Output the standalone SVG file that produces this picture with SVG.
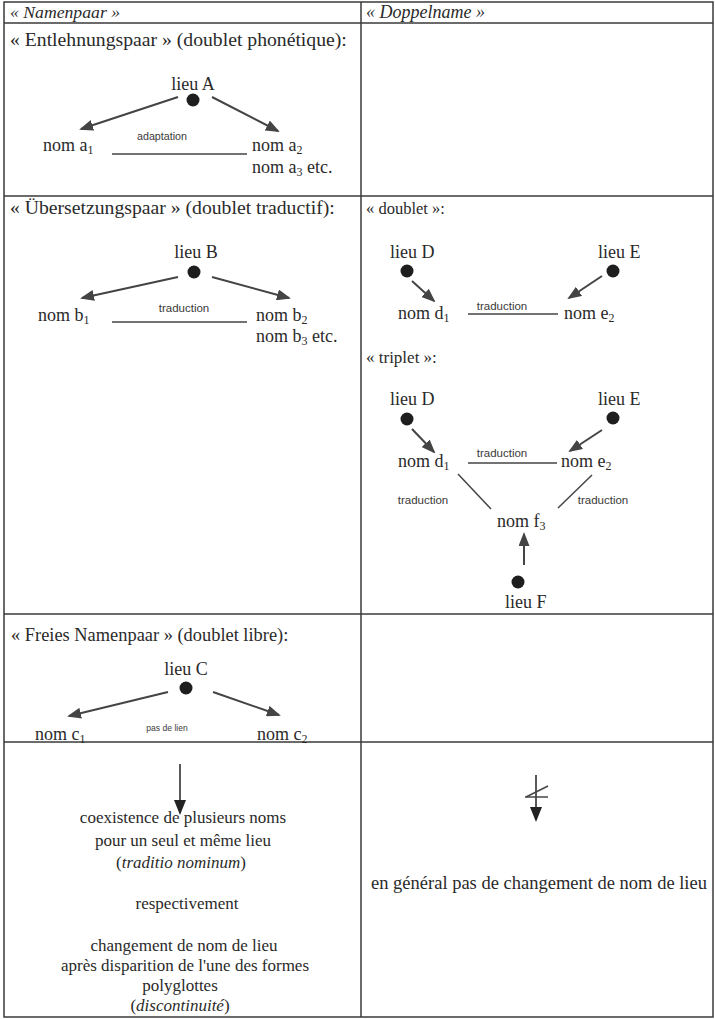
<svg xmlns="http://www.w3.org/2000/svg" width="715" height="1019" viewBox="0 0 715 1019">
<style>
.t{font-family:"Liberation Serif","Times New Roman",serif;font-size:18px;fill:#2a2a2a}
.h{font-family:"Liberation Serif","Times New Roman",serif;font-size:18px;font-style:italic;fill:#2a2a2a}
.s{font-family:"Liberation Sans",Arial,sans-serif;font-size:11.5px;fill:#3a3a3a}
.c{text-anchor:middle}
.sub{font-size:12px}
.ti{font-size:19.7px}
.bl{font-size:17px}
.grid{stroke:#3a3a3a;stroke-width:1.5;fill:none}
.ar{stroke:#444;stroke-width:2;fill:none;marker-end:url(#ah)}
.ln{stroke:#444;stroke-width:1.5;fill:none}
.dot{fill:#1e1e1e}
</style>
<defs>
<marker id="ah" viewBox="0 0 14 11" refX="12" refY="5.5" markerWidth="14" markerHeight="11" markerUnits="userSpaceOnUse" orient="auto"><path d="M0,0 L14,5.5 L0,11 z" fill="#444"/></marker>
<marker id="ahb" viewBox="0 0 15 12" refX="13" refY="6" markerWidth="15" markerHeight="12" markerUnits="userSpaceOnUse" orient="auto"><path d="M0,0 L15,6 L0,12 z" fill="#222"/></marker>
</defs>
<rect width="715" height="1019" fill="#fff"/>
<g id="table">
<rect class="grid" x="4" y="2" width="709" height="1015"/>
<line class="grid" x1="361" y1="2" x2="361" y2="1017"/>
<line class="grid" x1="4" y1="23" x2="713" y2="23"/>
<line class="grid" x1="4" y1="196" x2="713" y2="196"/>
<line class="grid" x1="4" y1="614" x2="713" y2="614"/>
<line class="grid" x1="4" y1="742" x2="713" y2="742"/>
</g>
<g id="headers">
<text class="h" x="10" y="18" style="font-size:17.7px">« Namenpaar »</text>
<text class="h" x="366" y="18">« Doppelname »</text>
</g>
<g id="titles">
<text class="t ti" x="10" y="46">« Entlehnungspaar » (doublet phonétique):</text>
<text class="t ti" x="10" y="214">« Übersetzungspaar » (doublet traductif):</text>
<text class="t" x="366" y="214" style="font-size:16.5px">« doublet »:</text>
<text class="t" x="366" y="363" style="font-size:17px">« triplet »:</text>
<text class="t" x="11" y="641" style="font-size:18.4px">« Freies Namenpaar » (doublet libre):</text>
</g>
<g id="nodeA">
<text class="t c" x="193" y="90">lieu A</text>
<circle class="dot" cx="193" cy="100" r="6.5"/>
<text class="t" x="43" y="151">nom a<tspan class="sub" dy="3">1</tspan></text>
<text class="t" x="252" y="151">nom a<tspan class="sub" dy="3">2</tspan></text>
<text class="t" x="252" y="173">nom a<tspan class="sub" dy="3">3</tspan><tspan dy="-3"> etc.</tspan></text>
<text class="s c" x="162" y="140" style="font-size:10.7px">adaptation</text>
</g>
<g id="nodeB">
<text class="t c" x="196" y="258">lieu B</text>
<circle class="dot" cx="194" cy="272" r="6.5"/>
<text class="t" x="38" y="321">nom b<tspan class="sub" dy="3">1</tspan></text>
<text class="t" x="256" y="321">nom b<tspan class="sub" dy="3">2</tspan></text>
<text class="t" x="256" y="342">nom b<tspan class="sub" dy="3">3</tspan><tspan dy="-3"> etc.</tspan></text>
<text class="s c" x="184" y="312">traduction</text>
</g>
<g id="nodeD1">
<text class="t" x="390" y="258">lieu D</text>
<circle class="dot" cx="407" cy="271" r="6.5"/>
<text class="t" x="398" y="319">nom d<tspan class="sub" dy="3">1</tspan></text>
</g>
<g id="nodeE1">
<text class="t" x="598" y="258">lieu E</text>
<circle class="dot" cx="613" cy="271" r="6.5"/>
<text class="t" x="564" y="319">nom e<tspan class="sub" dy="3">2</tspan></text>
<text class="s c" x="502" y="310">traduction</text>
</g>
<g id="nodeD2">
<text class="t" x="390" y="405">lieu D</text>
<circle class="dot" cx="407" cy="419" r="6.5"/>
<text class="t" x="398" y="467">nom d<tspan class="sub" dy="3">1</tspan></text>
</g>
<g id="nodeE2">
<text class="t" x="598" y="405">lieu E</text>
<circle class="dot" cx="613" cy="418" r="6.5"/>
<text class="t" x="561" y="467">nom e<tspan class="sub" dy="3">2</tspan></text>
<text class="s c" x="502" y="457">traduction</text>
</g>
<g id="nodeF">
<text class="t" x="497" y="527">nom f<tspan class="sub" dy="3">3</tspan></text>
<circle class="dot" cx="518" cy="582" r="6.5"/>
<text class="t" x="505" y="608">lieu F</text>
<text class="s c" x="423" y="504">traduction</text>
<text class="s c" x="603" y="504">traduction</text>
</g>
<g id="nodeC">
<text class="t c" x="186" y="675">lieu C</text>
<circle class="dot" cx="186" cy="688" r="6.5"/>
<text class="t" x="35" y="740">nom c<tspan class="sub" dy="3">1</tspan></text>
<text class="t" x="257" y="740">nom c<tspan class="sub" dy="3">2</tspan></text>
<text class="s c" x="167" y="731" style="font-size:8.6px">pas de lien</text>
</g>
<g id="conclusionLeft">
<text class="t c bl" x="183" y="823">coexistence de plusieurs noms</text>
<text class="t c bl" x="183" y="846">pour un seul et même lieu</text>
<text class="t c bl" x="181" y="868">(<tspan font-style="italic">traditio nominum</tspan>)</text>
<text class="t c bl" x="187" y="909">respectivement</text>
<text class="t c bl" x="184" y="951">changement de nom de lieu</text>
<text class="t c bl" x="185" y="971">après disparition de l'une des formes</text>
<text class="t c bl" x="180" y="991">polyglottes</text>
<text class="t c bl" x="180" y="1011">(<tspan font-style="italic">discontinuité</tspan>)</text>
</g>
<g id="conclusionRight">
<text class="t c" x="539" y="889" style="font-size:18.5px">en général pas de changement de nom de lieu</text>
</g>
<g id="connectors">
<line class="ar" x1="178" y1="97" x2="81" y2="129"/>
<line class="ar" x1="212" y1="97" x2="278" y2="131"/>
<line class="ln" x1="112" y1="154" x2="247" y2="154"/>
<line class="ar" x1="178" y1="277" x2="82" y2="298"/>
<line class="ar" x1="212" y1="277" x2="289" y2="298"/>
<line class="ln" x1="112" y1="322" x2="247" y2="322"/>
<line class="ar" x1="412" y1="281" x2="434" y2="301"/>
<line class="ar" x1="602" y1="276" x2="569" y2="298"/>
<line class="ln" x1="468" y1="314" x2="558" y2="314"/>
<line class="ar" x1="412" y1="429" x2="434" y2="452"/>
<line class="ar" x1="602" y1="430" x2="570" y2="451"/>
<line class="ln" x1="468" y1="463" x2="557" y2="463"/>
<line class="ln" x1="458" y1="474" x2="491" y2="509"/>
<line class="ln" x1="592" y1="475" x2="558" y2="508"/>
<line class="ar" x1="524" y1="565" x2="524" y2="534"/>
<line class="ar" x1="168" y1="692" x2="69" y2="716"/>
<line class="ar" x1="213" y1="692" x2="279" y2="715"/>
<line stroke="#222" stroke-width="1.5" marker-end="url(#ahb)" x1="180" y1="764" x2="180" y2="813"/>
<line stroke="#222" stroke-width="1.5" marker-end="url(#ahb)" x1="536" y1="775" x2="536" y2="820"/>
<line class="ln" stroke="#222" x1="525" y1="797" x2="548" y2="797"/>
<line class="ln" stroke="#222" x1="526" y1="797" x2="548" y2="786"/>
</g>
</svg>
